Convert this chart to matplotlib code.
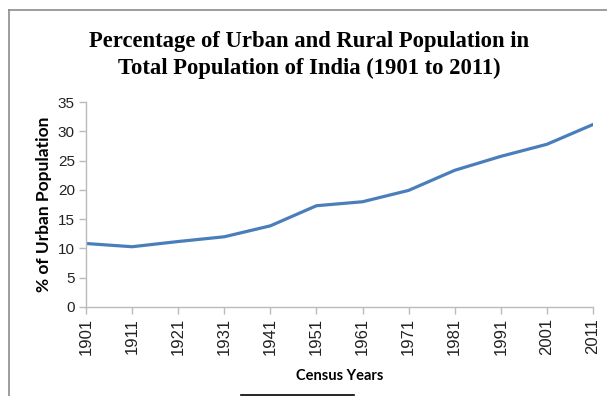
import matplotlib
matplotlib.use("Agg")
import matplotlib.pyplot as plt
from matplotlib.lines import Line2D

# Census data: share of urban population in India
census_years = ["1901", "1911", "1921", "1931", "1941", "1951",
                "1961", "1971", "1981", "1991", "2001", "2011"]
urban_pct = [10.84, 10.29, 11.18, 11.99, 13.86, 17.29,
             17.97, 19.91, 23.34, 25.72, 27.78, 31.16]
y_ticks = [0, 5, 10, 15, 20, 25, 30, 35]

fig = plt.figure(figsize=(6.07, 3.96), dpi=100)
ax = fig.add_axes([86 / 607, 1 - 307 / 396, (593 - 86) / 607, (307 - 102) / 396])

x = list(range(len(census_years)))
ax.plot(x, urban_pct, color="#4A7EBB", linewidth=2.3, solid_capstyle="round")

ax.set_xlim(0, len(census_years) - 1)
ax.set_ylim(0, 35)
ax.set_xticks(x)
ax.set_xticklabels(census_years, rotation=90, family="Liberation Sans",
                   fontsize=12, color="#222222")
ax.set_yticks(y_ticks)
ax.set_yticklabels([str(v) for v in y_ticks], family="Liberation Sans",
                   fontsize=11, color="#222222")

for s in ["top", "right"]:
    ax.spines[s].set_visible(False)
for s in ["left", "bottom"]:
    ax.spines[s].set_color("#BBBBBB")
    ax.spines[s].set_linewidth(1)
ax.tick_params(axis="both", color="#BBBBBB", length=5, width=1, pad=3)

ax.set_ylabel("% of Urban Population", family="Lato", fontweight="bold",
              fontsize=12.5, labelpad=4)
ax.set_xlabel("Census Years", family="Lato", fontweight="bold",
              fontsize=10.5, labelpad=10)

fig.text(0.509, 1 - 55 / 396,
         "Percentage of Urban and Rural Population in\nTotal Population of India (1901 to 2011)",
         ha="center", va="center", family="Liberation Serif", fontweight="bold",
         fontsize=16.3, linespacing=1.35)

# page frame and rule around the chart
fig.add_artist(Line2D([8.5 / 607, 8.5 / 607], [0, 1 - 10 / 396],
                      color="#8C8C8C", linewidth=1.2))
fig.add_artist(Line2D([8.5 / 607, 1], [1 - 10 / 396, 1 - 10 / 396],
                      color="#8C8C8C", linewidth=1.2))
fig.add_artist(Line2D([241 / 607, 354 / 607], [1 - 394.5 / 396, 1 - 394.5 / 396],
                      color="black", linewidth=1.2))

fig.savefig("out.png", dpi=100)
